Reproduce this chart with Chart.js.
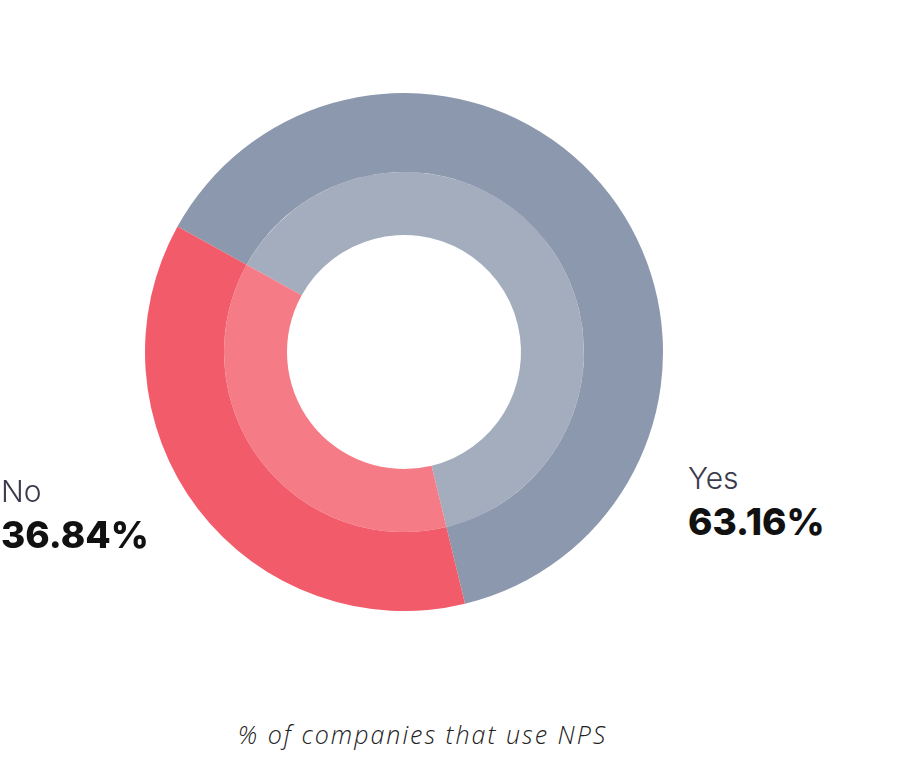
<!DOCTYPE html>
<html lang="en">
<head>
<meta charset="UTF-8">
<title>NPS</title>
<script src="https://cdn.jsdelivr.net/npm/chart.js"></script>
<style>
    body { margin: 0; background: #fff; width: 909px; height: 760px; position: relative; overflow: hidden; font-family: Inter, "Noto Sans", sans-serif; }
    .grafico { position: absolute; left: 145px; top: 93px; width: 518px; height: 518px; }
    .rotulo { position: absolute; line-height: 1; }
    .rotulo .nome { font-size: 30px; font-weight: 300; color: #3b3b4d; }
    .rotulo .valor { font-size: 37px; font-weight: 800; color: #111; margin-top: 10px; }
    .legenda { position: absolute; left: 0; width: 845px; top: 722px; line-height: 1; text-align: center; font-family: "Open Sans", sans-serif; font-size: 25px; font-style: italic; font-weight: 300; color: #222; letter-spacing: 2px; }
</style>
</head>
<body>
    <div class="grafico"><canvas id="graficoNps" width="518" height="518"></canvas></div>
    <div class="rotulo" id="rotuloNo" style="left:1px; top:476px"></div>
    <div class="rotulo" id="rotuloYes" style="left:688px; top:463px"></div>
    <div class="legenda">% of companies that use NPS</div>

<script>
    // dados
    const categorias = ['Yes', 'No'];
    const percentuais = [63.16, 36.84];
    const rotulosValor = ['63.16%', '36.84%'];

    const coresExterno = ['#8c98ad', '#f25b6a'];
    const coresInterno = ['#a3adbd', '#f57b87'];

    document.getElementById('rotuloYes').innerHTML =
        `<div class="nome">${categorias[0]}</div><div class="valor">${rotulosValor[0]}</div>`;
    document.getElementById('rotuloNo').innerHTML =
        `<div class="nome">${categorias[1]}</div><div class="valor">${rotulosValor[1]}</div>`;

    const ctx = document.getElementById('graficoNps').getContext('2d');
    new Chart(ctx, {
        type: 'doughnut',
        data: {
            labels: categorias,
            datasets: [{
                data: percentuais,
                backgroundColor: coresExterno,
                borderWidth: 0,
                weight: 79
            }, {
                data: percentuais,
                backgroundColor: coresInterno,
                borderWidth: 0,
                weight: 63
            }]
        },
        options: {
            responsive: false,
            animation: false,
            rotation: -61,
            cutout: 117,
            layout: { padding: 0 },
            plugins: {
                legend: { display: false },
                tooltip: { enabled: false }
            }
        }
    });
</script>
</body>
</html>
